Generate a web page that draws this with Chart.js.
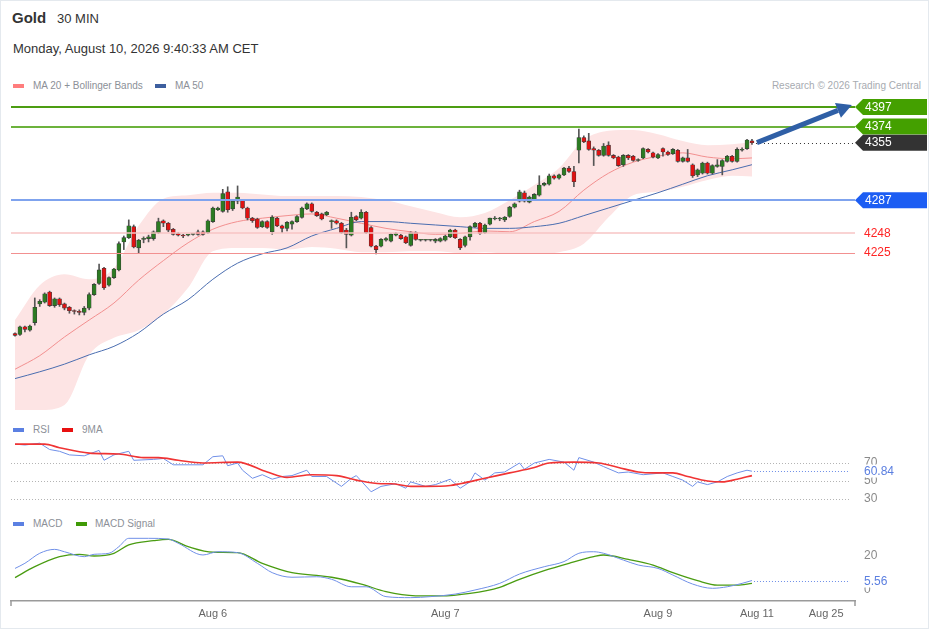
<!DOCTYPE html>
<html>
<head>
<meta charset="utf-8">
<script src="https://cdn.jsdelivr.net/npm/chart.js@4.4.1/dist/chart.umd.min.js"></script>
<style>
  body { margin: 0; background: #fff; font-family: 'Liberation Sans', Arial, sans-serif; }
  #wrap { position: relative; width: 929px; height: 629px; overflow: hidden; }
  #frame { position: absolute; left: 0; top: 0; width: 929px; height: 629px; box-sizing: border-box; border: 1px solid #e4e9ee; pointer-events: none; }
  .t { position: absolute; white-space: nowrap; line-height: 1; }
  .sw { position: absolute; width: 11px; height: 4px; }
  .leg { font-size: 10px; color: #8c9097; }
  canvas { position: absolute; left: 0; }
</style>
</head>
<body>
<div id="wrap">
  <div class="t" style="left:12px;top:10px;font-size:15px;font-weight:bold;color:#333">Gold</div>
  <div class="t" style="left:57px;top:12px;font-size:13px;color:#333">30 MIN</div>
  <div class="t" style="left:13px;top:42px;font-size:13px;color:#333">Monday, August 10, 2026 9:40:33 AM CET</div>

  <div class="sw" style="left:13px;top:84px;background:#ff7d7d"></div>
  <div class="t leg" style="left:33px;top:81px">MA 20 + Bollinger Bands</div>
  <div class="sw" style="left:155px;top:84px;background:#3d5f9f"></div>
  <div class="t leg" style="left:175px;top:81px">MA 50</div>
  <div class="t leg" style="right:8px;top:81px;color:#a7abb1">Research © 2026 Trading Central</div>

  <div class="sw" style="left:13px;top:428px;background:#5b80e2"></div>
  <div class="t leg" style="left:33px;top:425px">RSI</div>
  <div class="sw" style="left:62px;top:428px;background:#e81010"></div>
  <div class="t leg" style="left:82px;top:425px">9MA</div>

  <div class="sw" style="left:13px;top:522px;background:#5b80e2"></div>
  <div class="t leg" style="left:33px;top:519px">MACD</div>
  <div class="sw" style="left:76px;top:522px;background:#3f9a06"></div>
  <div class="t leg" style="left:95px;top:519px">MACD Signal</div>

  <canvas id="main" width="929" height="325" style="top:95px"></canvas>
  <canvas id="rsi" width="929" height="70" style="top:440px"></canvas>
  <canvas id="macd" width="929" height="99" style="top:530px"></canvas>
  <div id="frame"></div>
</div>
<script>
// Velas de 30 minutos (índice 0 = primera vela)
const candleOpen = [
  4130, 4129, 4138, 4134, 4143, 4165, 4167, 4179, 4163, 4171,
  4165, 4161, 4157, 4156, 4155, 4160, 4176, 4189, 4207, 4187,
  4196, 4205, 4238, 4243, 4256, 4231, 4241, 4242, 4242, 4249,
  4263, 4260, 4253, 4248, 4246, 4246, 4247, 4250, 4250, 4249,
  4262, 4276, 4274, 4297, 4277, 4286, 4287, 4278, 4266, 4265,
  4256, 4262, 4250, 4266, 4257, 4254, 4259, 4262, 4267, 4277,
  4283, 4273, 4271, 4270, 4262, 4263, 4260, 4252, 4246, 4268,
  4266, 4273, 4255, 4233, 4233, 4240, 4239, 4246, 4246, 4244,
  4234, 4249, 4240, 4240, 4240, 4239, 4239, 4240, 4244, 4252,
  4241, 4234, 4244, 4256, 4260, 4249, 4259, 4265, 4265, 4264,
  4268, 4279, 4286, 4296, 4285, 4288, 4293, 4305, 4306, 4316,
  4313, 4317, 4325, 4321, 4346, 4361, 4357, 4348, 4346, 4340,
  4352, 4340, 4338, 4329, 4340, 4339, 4334, 4337, 4347, 4343,
  4337, 4348, 4344, 4342, 4346, 4333, 4337, 4329, 4317, 4319,
  4331, 4319, 4327, 4327, 4333, 4339, 4333, 4346, 4348, 4357
];
const candleHigh = [
  4131, 4139, 4139, 4140, 4172, 4170, 4178, 4180, 4172, 4172,
  4166, 4162, 4158, 4158, 4162, 4178, 4189, 4212, 4208, 4197,
  4207, 4238, 4245, 4264, 4258, 4241, 4244, 4246, 4251, 4266,
  4264, 4261, 4254, 4249, 4247, 4247, 4248, 4252, 4251, 4264,
  4279, 4279, 4300, 4303, 4287, 4304, 4288, 4279, 4267, 4266,
  4263, 4263, 4269, 4267, 4258, 4262, 4263, 4269, 4279, 4284,
  4284, 4274, 4272, 4274, 4264, 4264, 4261, 4254, 4273, 4269,
  4276, 4274, 4256, 4234, 4242, 4243, 4248, 4249, 4247, 4245,
  4250, 4250, 4241, 4241, 4241, 4242, 4243, 4246, 4253, 4253,
  4242, 4245, 4257, 4261, 4261, 4259, 4266, 4268, 4267, 4268,
  4280, 4284, 4299, 4298, 4292, 4295, 4316, 4308, 4318, 4317,
  4318, 4326, 4327, 4327, 4371, 4363, 4366, 4350, 4347, 4354,
  4356, 4341, 4339, 4341, 4341, 4340, 4336, 4349, 4348, 4344,
  4342, 4349, 4345, 4348, 4347, 4338, 4347, 4330, 4324, 4332,
  4332, 4329, 4335, 4335, 4340, 4340, 4349, 4349, 4359, 4359
];
const candleLow = [
  4127, 4128, 4132, 4133, 4140, 4162, 4166, 4162, 4161, 4162,
  4158, 4154, 4153, 4152, 4152, 4158, 4175, 4188, 4182, 4186,
  4195, 4204, 4229, 4242, 4231, 4225, 4237, 4238, 4240, 4248,
  4256, 4250, 4246, 4245, 4243, 4245, 4246, 4246, 4246, 4248,
  4261, 4275, 4273, 4273, 4275, 4283, 4277, 4264, 4261, 4254,
  4255, 4254, 4247, 4256, 4249, 4251, 4253, 4261, 4266, 4276,
  4273, 4268, 4264, 4269, 4254, 4259, 4248, 4231, 4245, 4263,
  4265, 4248, 4232, 4224, 4232, 4239, 4238, 4245, 4241, 4236,
  4233, 4240, 4239, 4239, 4239, 4237, 4238, 4239, 4243, 4242,
  4229, 4232, 4240, 4255, 4247, 4248, 4258, 4264, 4263, 4262,
  4267, 4278, 4285, 4285, 4284, 4287, 4292, 4304, 4305, 4312,
  4312, 4316, 4320, 4303, 4331, 4355, 4346, 4328, 4339, 4339,
  4339, 4336, 4327, 4327, 4335, 4333, 4333, 4336, 4343, 4337,
  4336, 4339, 4340, 4341, 4332, 4332, 4332, 4314, 4315, 4318,
  4318, 4318, 4326, 4317, 4332, 4332, 4332, 4345, 4347, 4353
];
const candleClose = [
  4128, 4138, 4135, 4139, 4161, 4168, 4177, 4163, 4171, 4164,
  4160, 4157, 4156, 4155, 4160, 4176, 4188, 4205, 4184, 4196,
  4206, 4236, 4243, 4257, 4232, 4240, 4242, 4244, 4250, 4262,
  4260, 4252, 4247, 4246, 4245, 4247, 4247, 4247, 4247, 4263,
  4278, 4278, 4295, 4276, 4286, 4291, 4278, 4266, 4263, 4255,
  4262, 4255, 4267, 4257, 4254, 4261, 4262, 4268, 4278, 4283,
  4274, 4269, 4265, 4273, 4263, 4260, 4249, 4247, 4267, 4264,
  4273, 4249, 4233, 4229, 4241, 4242, 4247, 4248, 4242, 4237,
  4249, 4241, 4240, 4240, 4240, 4241, 4242, 4245, 4252, 4243,
  4231, 4244, 4256, 4260, 4248, 4258, 4266, 4266, 4266, 4267,
  4279, 4283, 4297, 4286, 4291, 4294, 4305, 4307, 4316, 4313,
  4317, 4325, 4321, 4309, 4361, 4356, 4347, 4346, 4340, 4351,
  4340, 4337, 4328, 4340, 4337, 4334, 4335, 4348, 4344, 4338,
  4341, 4344, 4341, 4347, 4333, 4337, 4333, 4316, 4323, 4331,
  4319, 4328, 4329, 4334, 4339, 4333, 4347, 4347, 4358, 4355
];

// Medias y Bollinger leídas cada 5 velas
const bandIdx = [0, 5, 10, 15, 20, 25, 30, 35, 40, 45, 50, 55, 60, 65, 70, 75, 80, 85, 90, 95, 100, 105, 110, 115, 120, 125, 130, 135, 140, 145, 149];
const bbUpper = [4146, 4187, 4200, 4194, 4207, 4257, 4289, 4293, 4296, 4296, 4294, 4292, 4292, 4292, 4291, 4287, 4280, 4273, 4267, 4272, 4287, 4305, 4325, 4358, 4369, 4370, 4365, 4357, 4352, 4353, 4356];
const bbLower = [4040, 4040, 4046, 4105, 4125, 4134, 4153, 4184, 4227, 4231, 4231, 4229, 4232, 4230, 4226, 4226, 4227, 4227, 4225, 4226, 4224, 4224, 4226, 4236, 4267, 4293, 4297, 4303, 4311, 4316, 4315];
const ma20 = [4088, 4104, 4126, 4146, 4166, 4193, 4216, 4237, 4253, 4262, 4266, 4269, 4271, 4266, 4260, 4254, 4250, 4247, 4248, 4251, 4250, 4262, 4274, 4299, 4319, 4332, 4339, 4343, 4338, 4336, 4337];
const ma50 = [4077, 4085, 4094, 4105, 4115, 4131, 4153, 4170, 4194, 4213, 4224, 4231, 4245, 4254, 4262, 4262, 4260, 4258, 4256, 4254, 4254, 4256, 4260, 4269, 4278, 4287, 4296, 4306, 4316, 4323, 4329];

// Niveles y flecha
const levelValues = [4397, 4374, 4355, 4287, 4248, 4225];
const arrowFrom = [150, 4355];
const arrowTo = [169.2, 4399.5];

// RSI
const rsiIdx = [0, 2, 5, 7, 9, 11, 14, 17, 18, 20, 23, 24, 28, 30, 32, 38, 40, 42, 43, 45, 46, 48, 50, 52, 54, 56, 59, 60, 63, 66, 68, 69, 72, 74, 77, 79, 80, 83, 85, 88, 90, 92, 93, 95, 97, 99, 102, 103, 105, 108, 111, 113, 114, 117, 119, 122, 124, 127, 129, 131, 133, 135, 137, 138, 140, 142, 144, 146, 148, 149];
const rsiVal = [91, 90, 92, 85, 83, 79, 78, 84, 73, 79, 83, 73, 74, 75, 68, 68, 77, 78, 67, 70, 62, 53, 57, 52, 55, 56, 62, 55, 55, 44, 53, 56, 38, 44, 47, 42, 49, 44, 46, 52, 42, 49, 59, 51, 59, 60, 70, 63, 70, 74, 71, 62, 76, 71, 66, 59, 60, 57, 58, 59, 55, 51, 44, 49, 46, 49, 55, 59, 62, 60.84];
const rsiMaIdx = [0, 6, 9, 15, 21, 26, 29, 33, 38, 45, 51, 55, 60, 65, 69, 74, 76, 80, 83, 88, 90, 95, 100, 105, 108, 113, 118, 122, 126, 129, 133, 136, 140, 143, 146, 149];
const rsiMaVal = [91, 91, 87, 81, 80, 76, 76, 73, 70, 71, 60, 54, 57, 56, 51, 47, 47, 44, 44, 45, 47, 53, 59, 65, 70, 71, 70, 65, 60, 59, 59, 55, 50, 49, 52, 56];
const rsiLevels = [70, 50, 30];

// MACD
const macdIdx = [0, 2, 5, 8, 10, 14, 16, 19, 21, 23, 27, 31, 33, 38, 41, 45, 49, 52, 56, 61, 64, 68, 71, 75, 80, 84, 89, 93, 98, 102, 107, 111, 114, 117, 119, 123, 126, 130, 133, 137, 141, 144, 147, 149];
const macdVal = [12.7, 15.7, 21.6, 23.9, 22.5, 19.6, 21, 21.6, 25.5, 30.4, 30.4, 30, 27.5, 20.6, 22.5, 22, 15.7, 10.2, 7.5, 7.8, 6.3, 1.9, 1.9, -3.9, -4.5, -3.9, -2.4, 0, 3.9, 9.4, 13.7, 16.7, 21.6, 22.5, 21.6, 17.6, 14.7, 12.7, 8.8, 3.5, 1, 1.9, 3.9, 5.56];
const signalIdx = [0, 4, 9, 13, 16, 20, 23, 28, 31, 35, 40, 45, 50, 56, 61, 64, 70, 75, 81, 86, 92, 98, 102, 107, 112, 117, 119, 124, 129, 133, 138, 142, 146, 149];
const signalVal = [7.3, 13.7, 19.6, 21, 20, 21.6, 26.5, 29, 29.8, 25.5, 22.2, 22, 15.7, 10.2, 8.6, 7.5, 3.5, -1, -3.4, -3.5, -2, 1.6, 6.3, 11.4, 15.7, 19.6, 20.6, 18, 14.7, 10.2, 5.5, 2.9, 2.9, 3.9];
const macdLevels = [20, 0];

// Eje X
const xTickIdx = [40, 87, 130, 150, 164];
const xTickLabels = ['Aug 6', 'Aug 7', 'Aug 9', 'Aug 11', 'Aug 25'];

Chart.defaults.font.family = "'Liberation Sans', Arial, sans-serif";

const X_MIN = -0.81, X_MAX = 169.83;
const pad = { left: 11, right: 74, top: 0, bottom: 0 };
const lastIdx = candleOpen.length - 1;
const pts = (idx, vals) => idx.map((x, i) => ({ x: x, y: vals[i] }));
const isUp = i => candleClose[i] >= candleOpen[i];

function hline(ctx, x0, x1, y, color, width, dash) {
  ctx.beginPath();
  ctx.setLineDash(dash || []);
  ctx.strokeStyle = color;
  ctx.lineWidth = width;
  ctx.moveTo(x0, y);
  ctx.lineTo(x1, y);
  ctx.stroke();
  ctx.setLineDash([]);
}

function sideText(ctx, text, x, y, color) {
  ctx.fillStyle = color;
  ctx.font = "12px 'Liberation Sans', Arial, sans-serif";
  ctx.textAlign = 'left';
  ctx.textBaseline = 'middle';
  ctx.fillText(text, x, y);
}

function tag(ctx, xTip, yc, fill, text) {
  const h = 16;
  ctx.beginPath();
  ctx.moveTo(xTip, yc);
  ctx.lineTo(xTip + 8, yc - h / 2);
  ctx.lineTo(927, yc - h / 2);
  ctx.lineTo(927, yc + h / 2);
  ctx.lineTo(xTip + 8, yc + h / 2);
  ctx.closePath();
  ctx.fillStyle = fill;
  ctx.fill();
  sideText(ctx, text, xTip + 10, yc + 0.5, '#fff');
}

const levelStyle = [
  { line: '#4c9d12', w: 2, tag: '#44a000' },
  { line: '#6cb23c', w: 2, tag: '#44a000' },
  { line: '#333', w: 1, dash: [1, 3], fromLast: true, tag: '#333333' },
  { line: '#7fa3ee', w: 2, tag: '#1c5df3' },
  { line: '#f7c4c4', w: 1.5, text: '#ff2424' },
  { line: '#f29090', w: 1, text: '#ff2424' }
];

const levelsPlugin = {
  id: 'levels',
  afterDatasetsDraw(chart) {
    const { ctx, chartArea: a, scales: { x, y } } = chart;
    ctx.save();
    levelValues.forEach((v, i) => {
      const st = levelStyle[i];
      const py = Math.round(y.getPixelForValue(v)) + (st.w === 1 ? 0.5 : 0);
      const x0 = st.fromLast ? x.getPixelForValue(lastIdx) + 4 : a.left;
      hline(ctx, x0, a.right, py, st.line, st.w, st.dash);
    });

    // flecha de tendencia
    const p0 = { x: x.getPixelForValue(arrowFrom[0]), y: y.getPixelForValue(arrowFrom[1]) };
    const p1 = { x: x.getPixelForValue(arrowTo[0]), y: y.getPixelForValue(arrowTo[1]) };
    const ang = Math.atan2(p1.y - p0.y, p1.x - p0.x);
    const head = 15, half = 8;
    const bx = p1.x - head * Math.cos(ang), by = p1.y - head * Math.sin(ang);
    ctx.strokeStyle = '#2f5fa6';
    ctx.fillStyle = '#2f5fa6';
    ctx.lineWidth = 5;
    ctx.beginPath();
    ctx.moveTo(p0.x, p0.y);
    ctx.lineTo(bx, by);
    ctx.stroke();
    ctx.beginPath();
    ctx.moveTo(p1.x, p1.y);
    ctx.lineTo(bx + half * Math.sin(ang), by - half * Math.cos(ang));
    ctx.lineTo(bx - half * Math.sin(ang), by + half * Math.cos(ang));
    ctx.closePath();
    ctx.fill();

    levelValues.forEach((v, i) => {
      const st = levelStyle[i];
      const py = y.getPixelForValue(v);
      if (st.tag) tag(ctx, a.right, py, st.tag, String(v));
      else sideText(ctx, String(v), a.right + 9, py, st.text);
    });
    ctx.restore();
  }
};

new Chart(document.getElementById('main'), {
  type: 'bar',
  data: {
    datasets: [
      { type: 'line', data: pts(bandIdx, bbUpper), borderWidth: 0, pointRadius: 0, fill: '+1', backgroundColor: '#fde4e4', cubicInterpolationMode: 'monotone', order: 10 },
      { type: 'line', data: pts(bandIdx, bbLower), borderWidth: 0, pointRadius: 0, fill: false, cubicInterpolationMode: 'monotone', order: 11 },
      { type: 'line', data: pts(bandIdx, ma20), borderColor: '#f39090', borderWidth: 1, pointRadius: 0, cubicInterpolationMode: 'monotone', order: 6 },
      { type: 'line', data: pts(bandIdx, ma50), borderColor: '#4a6db0', borderWidth: 1, pointRadius: 0, cubicInterpolationMode: 'monotone', order: 5 },
      {
        data: candleOpen.map((o, i) => ({ x: i, y: [candleLow[i], candleHigh[i]] })),
        backgroundColor: '#555', barThickness: 1, grouped: false, order: 2
      },
      {
        data: candleOpen.map((o, i) => ({ x: i, y: [o, candleClose[i]] })),
        backgroundColor: c => isUp(c.dataIndex) ? '#2c7b22' : '#e01212',
        borderColor: '#3a3a3a', borderWidth: 0.6, borderSkipped: false,
        barThickness: 4, minBarLength: 1, grouped: false, order: 1
      }
    ]
  },
  options: {
    responsive: false,
    animation: false,
    layout: { padding: pad },
    plugins: { legend: { display: false }, tooltip: { enabled: false } },
    scales: {
      x: { type: 'linear', display: false, min: X_MIN, max: X_MAX, offset: false },
      y: { display: false, min: 4028.2, max: 4411.14 }
    }
  },
  plugins: [levelsPlugin]
});

// Panel RSI
const rsiPlugin = {
  id: 'rsiLevels',
  beforeDatasetsDraw(chart) {
    const { ctx, chartArea: a, scales: { y } } = chart;
    ctx.save();
    rsiLevels.forEach(v => hline(ctx, a.left, a.right - 5, Math.round(y.getPixelForValue(v)) + 0.5, '#b4b4b4', 1, [1, 2]));
    ctx.restore();
  },
  afterDatasetsDraw(chart) {
    const { ctx, chartArea: a, scales: { x, y } } = chart;
    ctx.save();
    rsiLevels.forEach(v => sideText(ctx, String(v), a.right + 9, y.getPixelForValue(v), '#8a8a8a'));
    const last = rsiVal[rsiVal.length - 1];
    const py = Math.round(y.getPixelForValue(last)) + 0.5;
    hline(ctx, x.getPixelForValue(lastIdx) + 2, a.right - 5, py, '#6f8fe8', 1, [1, 2]);
    ctx.fillStyle = '#fff';
    ctx.fillRect(a.right + 8, py - 7, 30, 13);
    sideText(ctx, last.toFixed(2), a.right + 9, py, '#5b7fe0');
    ctx.restore();
  }
};

new Chart(document.getElementById('rsi'), {
  type: 'line',
  data: {
    datasets: [
      { data: pts(rsiMaIdx, rsiMaVal), borderColor: '#f03434', borderWidth: 1.6, pointRadius: 0, cubicInterpolationMode: 'monotone', order: 1 },
      { data: pts(rsiIdx, rsiVal), borderColor: '#7090e8', borderWidth: 1, pointRadius: 0, tension: 0, order: 2 }
    ]
  },
  options: {
    responsive: false,
    animation: false,
    layout: { padding: pad },
    plugins: { legend: { display: false }, tooltip: { enabled: false } },
    scales: {
      x: { type: 'linear', display: false, min: X_MIN, max: X_MAX },
      y: { display: false, min: 17.78, max: 95.56 }
    }
  },
  plugins: [rsiPlugin]
});

// Panel MACD con eje de fechas
const macdPlugin = {
  id: 'macdLabels',
  afterDatasetsDraw(chart) {
    const { ctx, chartArea: a, scales: { x, y } } = chart;
    ctx.save();
    macdLevels.forEach(v => sideText(ctx, String(v), a.right + 9, y.getPixelForValue(v), '#8a8a8a'));
    const last = macdVal[macdVal.length - 1];
    const py = Math.round(y.getPixelForValue(last)) + 0.5;
    hline(ctx, x.getPixelForValue(lastIdx) + 2, a.right - 5, py, '#6f8fe8', 1, [1, 2]);
    ctx.fillStyle = '#fff';
    ctx.fillRect(a.right + 8, py - 7, 28, 13);
    sideText(ctx, last.toFixed(2), a.right + 9, py, '#5b7fe0');
    ctx.strokeStyle = '#9a9a9a';
    ctx.lineWidth = 1.5;
    ctx.beginPath();
    ctx.moveTo(a.left, a.bottom);
    ctx.lineTo(a.left, a.bottom + 5);
    ctx.moveTo(a.right, a.bottom);
    ctx.lineTo(a.right, a.bottom + 5);
    ctx.stroke();
    ctx.restore();
  }
};

new Chart(document.getElementById('macd'), {
  type: 'line',
  data: {
    datasets: [
      { data: pts(signalIdx, signalVal), borderColor: '#4a9c12', borderWidth: 1.3, pointRadius: 0, cubicInterpolationMode: 'monotone', order: 2 },
      { data: pts(macdIdx, macdVal), borderColor: '#7090e8', borderWidth: 1, pointRadius: 0, cubicInterpolationMode: 'monotone', order: 1 }
    ]
  },
  options: {
    responsive: false,
    animation: false,
    layout: { padding: pad },
    plugins: { legend: { display: false }, tooltip: { enabled: false } },
    scales: {
      x: {
        type: 'linear', min: X_MIN, max: X_MAX,
        afterBuildTicks: s => { s.ticks = xTickIdx.map(v => ({ value: v })); },
        afterFit: s => { s.height = 28; },
        grid: { display: false, drawTicks: false },
        border: { display: true, color: '#9a9a9a', width: 1.5 },
        ticks: {
          autoSkip: false, maxRotation: 0, padding: 6, color: '#666', font: { size: 11 },
          callback: v => xTickLabels[xTickIdx.indexOf(v)]
        }
      },
      y: { display: false, min: -6.47, max: 35.29 }
    }
  },
  plugins: [macdPlugin]
});
</script>
</body>
</html>
